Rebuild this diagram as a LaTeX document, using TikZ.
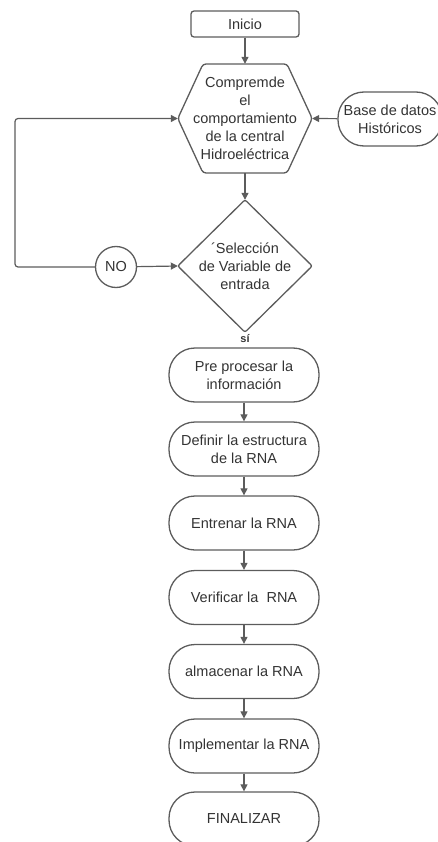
\documentclass[tikz,border=0pt]{standalone}
\usepackage{fontspec}
\setmainfont{Liberation Sans}
\usetikzlibrary{arrows.meta}
\definecolor{lc}{HTML}{5C5C5C}
\definecolor{tc}{HTML}{333333}
\begin{document}
\begin{tikzpicture}[x=1pt,y=-1pt,
  every node/.style={text=tc,font=\fontsize{14.5}{18}\selectfont,align=center},
  ln/.style={draw=lc,line width=1.3pt},
  arr/.style={draw=lc,line width=1.2pt,-{Triangle[length=7pt,width=7pt]}},
  stad/.style={ln,rectangle,rounded corners=26pt,minimum width=150pt,minimum height=54pt,inner sep=1pt},
  invis/.style={rectangle,inner sep=0pt}]
\useasboundingbox (0,0) rectangle (437,842);
\node[ln,rectangle,rounded corners=3pt,minimum width=108pt,minimum height=26pt,inner sep=0pt] (ini) at (245,24) {Inicio};
\node[invis,minimum width=134pt,minimum height=109pt] (hex) at (245,118.5) {Compremde\\el\\comportamiento\\de la central\\Hidroeléctrica};
\draw[ln,rounded corners=3pt] (hex.west) -- (203,64) -- (287,64) -- (hex.east) -- (287,173) -- (203,173) -- cycle;
\node[ln,rectangle,rounded corners=26pt,minimum width=104pt,minimum height=54pt,inner sep=0pt] (bd) at (390,119) {Base de datos\\Históricos};
\node[invis,minimum width=134pt,minimum height=132pt] (dia) at (245,266) {´Selección\\de Variable de\\entrada};
\draw[ln,rounded corners=2pt] (dia.west) -- (dia.north) -- (dia.east) -- (dia.south) -- cycle;
\node[ln,circle,minimum size=41pt,inner sep=0pt] (no) at (116,267) {NO};
\node[font=\bfseries\fontsize{11}{12}\selectfont] (si) at (245,339) {sí};
\node[stad] (p1) at (244,375) {Pre procesar la\\información};
\node[stad] (p2) at (244,449) {Definir la estructura\\de la RNA};
\node[stad] (p3) at (244,523) {Entrenar la RNA};
\node[stad] (p4) at (244,597.5) {Verificar la~ RNA};
\node[stad] (p5) at (244,671.5) {almacenar la RNA};
\node[stad] (p6) at (244,746) {Implementar la RNA};
\node[stad] (p7) at (244,819) {FINALIZAR};
\coordinate (c1) at (15,267);
\coordinate (c2) at (15,118.5);
\draw[arr] (ini) -- (hex.north);
\draw[arr] (bd) -- (hex.east);
\draw[arr] (hex.south) -- (dia.north);
\draw[arr] (no) -- (dia.west);
\draw[arr,rounded corners=3pt] (no.west) -- (c1) -- (c2) -- (hex.west);
\draw[arr] (p1) -- (p2);
\draw[arr] (p2) -- (p3);
\draw[arr] (p3) -- (p4);
\draw[arr] (p4) -- (p5);
\draw[arr] (p5) -- (p6);
\draw[arr] (p6) -- (p7);
\end{tikzpicture}
\end{document}
